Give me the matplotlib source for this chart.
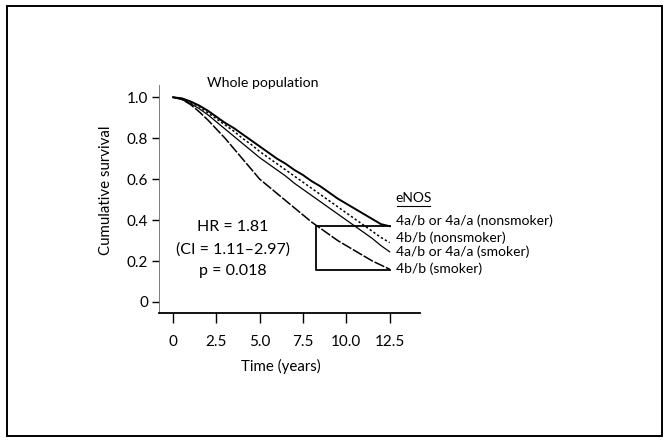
import numpy as np
import matplotlib
matplotlib.use("Agg")
from matplotlib import pyplot as plt
from matplotlib.patches import Rectangle

plt.rcParams["font.family"] = ["Lato", "DejaVu Sans"]

# Kaplan-Meier estimates (years, cumulative survival)
years = [0, 0.5, 1, 1.5, 2, 2.5, 3, 3.5, 4, 4.5, 5, 5.5, 6, 6.5, 7, 7.5,
         8, 8.5, 9, 9.5, 10, 10.5, 11, 11.5, 12, 12.5]
surv_a_nonsmoker = [1.0, 0.995, 0.98, 0.96, 0.935, 0.905, 0.875, 0.85, 0.82,
                    0.79, 0.76, 0.73, 0.70, 0.675, 0.645, 0.62, 0.59, 0.565,
                    0.535, 0.505, 0.48, 0.455, 0.43, 0.405, 0.38, 0.37]
surv_b_nonsmoker = [1.0, 0.995, 0.975, 0.955, 0.925, 0.895, 0.865, 0.835, 0.80,
                    0.77, 0.735, 0.705, 0.675, 0.645, 0.615, 0.585, 0.555, 0.525,
                    0.495, 0.465, 0.435, 0.405, 0.375, 0.345, 0.315, 0.29]
surv_a_smoker = [1.0, 0.99, 0.97, 0.945, 0.915, 0.88, 0.845, 0.81, 0.775,
                 0.74, 0.705, 0.675, 0.645, 0.615, 0.58, 0.55, 0.52, 0.49,
                 0.46, 0.43, 0.40, 0.37, 0.34, 0.31, 0.275, 0.245]
surv_b_smoker = [1.0, 0.99, 0.965, 0.93, 0.89, 0.845, 0.80, 0.75, 0.70,
                 0.65, 0.60, 0.565, 0.53, 0.495, 0.46, 0.425, 0.39, 0.36,
                 0.33, 0.30, 0.275, 0.25, 0.225, 0.20, 0.18, 0.16]

group_labels = ["4a/b or 4a/a (nonsmoker)", "4b/b (nonsmoker)",
                "4a/b or 4a/a (smoker)", "4b/b (smoker)"]
label_y = [0.395, 0.315, 0.245, 0.16]
x_ticks = [0, 2.5, 5.0, 7.5, 10.0, 12.5]
x_ticklabels = ["0", "2.5", "5.0", "7.5", "10.0", "12.5"]
y_ticks = [0, 0.2, 0.4, 0.6, 0.8, 1.0]
y_ticklabels = ["0", "0.2", "0.4", "0.6", "0.8", "1.0"]

W, H = 665, 440
fig = plt.figure(figsize=(W / 100, H / 100), dpi=100)

# outer frame
fig.patches.append(Rectangle((7 / W, 4 / H), 655 / W, 430 / H,
                             transform=fig.transFigure, fill=False,
                             edgecolor="black", linewidth=1.4))

ax = fig.add_axes([159 / W, (H - 313) / H, (420 - 159) / W, (313 - 85) / H])
ax.set_xlim(-0.81, 14.25)
ax.set_ylim(-0.054, 1.06)

styles = [
    dict(color="black", linewidth=1.4, linestyle="-"),
    dict(color="black", linewidth=1.1, linestyle=(0, (1.5, 1.5))),
    dict(color="black", linewidth=0.9, linestyle="-"),
    dict(color="black", linewidth=1.1, linestyle=(0, (7, 1.2))),
]
series = [surv_a_nonsmoker, surv_b_nonsmoker, surv_a_smoker, surv_b_smoker]
for s, st in zip(series, styles):
    ax.plot(years, s, **st)

# bracket joining the two compared groups
ax.plot([years[-1], 8.27, 8.27, years[-1]],
        [surv_a_nonsmoker[-1], surv_a_nonsmoker[-1], surv_b_smoker[-1] - 0.005,
         surv_b_smoker[-1] - 0.005],
        color="black", linewidth=1.3)

fs_leg = 10
for lab, yy in zip(group_labels, label_y):
    ax.text(12.85, yy, lab, fontsize=fs_leg, va="center", ha="left", clip_on=False)
ax.text(12.85, 0.51, "eNOS", fontsize=fs_leg, va="center", ha="left", clip_on=False)
ax.plot([12.9, 14.85], [0.47, 0.47], color="black", linewidth=0.8, clip_on=False)

fs_hr = 11.5
ax.text(3.45, 0.365, "HR = 1.81", fontsize=fs_hr, ha="center", va="center")
ax.text(3.45, 0.258, "(CI = 1.11\u20132.97)", fontsize=fs_hr, ha="center", va="center")
ax.text(3.45, 0.153, "p = 0.018", fontsize=fs_hr, ha="center", va="center")

ax.text(5.2, 1.07, "Whole population", fontsize=10.2, ha="center", va="center",
        clip_on=False)

fs_tick = 11
ax.set_xticks(x_ticks)
ax.set_xticklabels(x_ticklabels, fontsize=fs_tick)
ax.set_yticks(y_ticks)
ax.set_yticklabels(y_ticklabels, fontsize=fs_tick)
ax.tick_params(direction="out", length=5, width=1.0, pad=3)
ax.tick_params(axis="x", length=7, pad=9)
ax.set_xlabel("Time (years)", fontsize=10.8)
ax.set_ylabel("Cumulative survival", fontsize=10.8)
ax.xaxis.set_label_coords(0.467, -0.2)
ax.yaxis.set_label_coords(-0.175, 0.54)

for side in ["top", "right"]:
    ax.spines[side].set_visible(False)
ax.spines["bottom"].set_linewidth(1.3)
ax.spines["left"].set_linewidth(0.6)
ax.spines["left"].set_color("0.4")

fig.savefig("out.png", dpi=100)
